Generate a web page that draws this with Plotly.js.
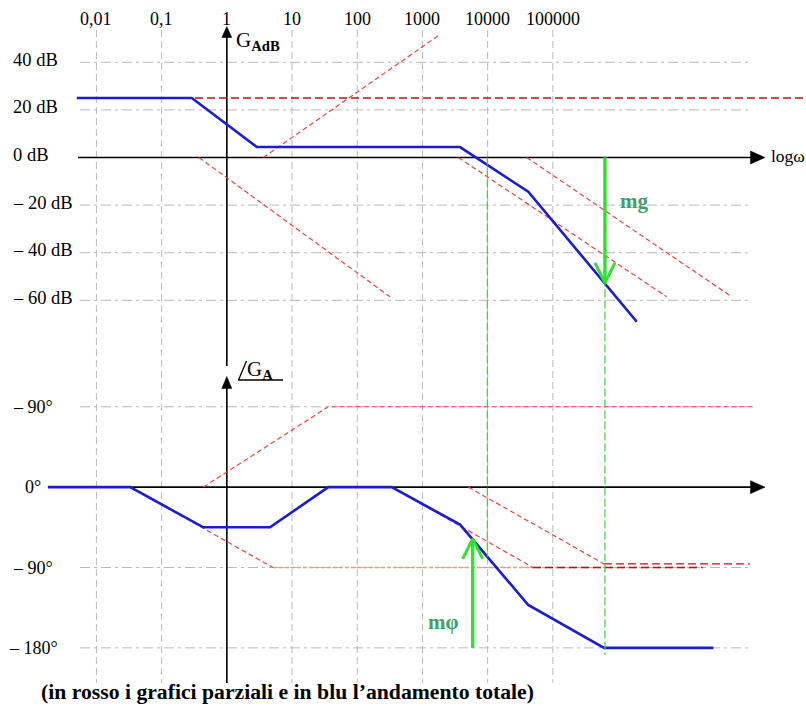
<!DOCTYPE html>
<html><head><meta charset="utf-8">
<script src="https://cdn.plot.ly/plotly-3.0.1.min.js"></script>
<style>html,body{margin:0;padding:0;background:#fff;} #chart{width:806px;height:706px;}</style>
</head><body><div id="chart"></div>
<script>
// ---------------- data ----------------
const decades = [0.01, 0.1, 1, 10, 100, 1000, 10000, 100000];
const decadeLabels = ['0,01', '0,1', '1', '10', '100', '1000', '10000', '100000'];
const dbTicks = [40, 20, 0, -20, -40, -60];
const dbLabels = ['40 dB', '20 dB', '0 dB', '– 20 dB', '– 40 dB', '– 60 dB'];
const degTicks = [90, 0, -90, -180];
const degLabels = ['– 90°', '0°', '– 90°', '– 180°'];

// total magnitude (blue)
const magW  = [0.005, 0.29, 2.9, 3780, 42000, 1940000];
const magDb = [25, 25, 4.4, 4.4, -14.4, -69];
// partial magnitudes (red)
const gainW = [0.325, 1e9];            const gainDb = [25, 25];
const zeroMagW = [3.63, 1820];         const zeroMagDb = [0, 51.5];
const pole1MagW = [0.375, 318];        const pole1MagDb = [0, -58.5];
const pole2MagW = [3560, 5580000];     const pole2MagDb = [0, -58.5];
const pole3MagW = [39800, 55500000];   const pole3MagDb = [0, -58.5];

// total phase (blue)
const phW   = [0.0018, 0.033, 0.436, 4.6, 36, 338, 3780, 42000, 610000, 29000000];
const phDeg = [0, 0, -45, -45, 0, 0, -42, -132, -180, -180];
// partial phases (red)
const zeroPhW = [0.436, 36, 117000000];   const zeroPhDeg = [0, 90, 90];
const pole1PhW = [0.033, 5.1];            const pole1PhDeg = [0, -90];
const pole1TailW = [5.1, 18000000];       const pole1TailDeg = [-90, -90];
const pole2PhW = [338, 49700];            const pole2PhDeg = [0, -90];
const pole2TailW = [49700, 20000000];     const pole2TailDeg = [-90, -90];
const pole3PhW = [5060, 610000];          const pole3PhDeg = [0, -86];
const pole3TailW = [610000, 105000000];   const pole3TailDeg = [-86, -86];

// stability margins
const wGainCross = 9900;    const phaseAtGainCross = -78;
const wPhaseCross = 630000; const gainMarginDb = -52.7; const phaseGuideEnd = -188;
const wMphi = 5900;         const phaseMarginTip = -58;  const phaseMarginBase = -180;

// ---------------- layout helpers ----------------
const W = 806, H = 706;
const X_LOG_RANGE = [-3.479, 8.883];
const DB_RANGE = [-230.46, 66.18];
const DEG_RANGE = [-245.1, 545.5];
const px = v => v / W;
const py = v => 1 - v / H;
const dbToPaper = d => (d - DB_RANGE[0]) / (DB_RANGE[1] - DB_RANGE[0]);
const degToPaper = d => (d - DEG_RANGE[0]) / (DEG_RANGE[1] - DEG_RANGE[0]);
const PX_PER_DECADE = W / (X_LOG_RANGE[1] - X_LOG_RANGE[0]);
const PX_PER_DB = H / (DB_RANGE[1] - DB_RANGE[0]);
const PX_PER_DEG = H / (DEG_RANGE[1] - DEG_RANGE[0]);

const RED = '#e8463f', DARKRED = '#b5161b', BLUE = '#1c1cc9', TAN = '#e8a07a';
const GREEN_D = '#33d433', GREEN = '#2fe22f', LABELGREEN = '#3f9f6c', GRID = '#b9b9b9';
const SERIF = 'Liberation Serif, Times New Roman, serif';

function ln(x, y, color, width, dash, yaxis) {
  return {type: 'scatter', mode: 'lines', x: x, y: y, yaxis: yaxis || 'y',
          line: {color: color, width: width, dash: dash || 'solid'},
          hoverinfo: 'skip', showlegend: false};
}
// vertical arrow: shaft + open V head (head size given in pixels)
function vArrow(w, yFrom, yTo, pxPerUnit, yaxis) {
  const halfW = 10, len = 20;
  const dir = yTo > yFrom ? 1 : -1;
  const k = Math.pow(10, halfW / PX_PER_DECADE);
  const yBack = yTo - dir * len / pxPerUnit;
  return [
    ln([w, w], [yFrom, yTo], GREEN, 3.4, 'solid', yaxis),
    Object.assign(ln([w / k, w, w * k], [yBack, yTo, yBack], GREEN, 3, 'solid', yaxis), {line: {color: GREEN, width: 3, shape: 'linear'}})
  ];
}

const traces = [
  ln(gainW, gainDb, DARKRED, 1.4, '8px,4px'),
  ln(zeroMagW, zeroMagDb, RED, 1.2, '5px,3px'),
  ln(pole1MagW, pole1MagDb, RED, 1.2, '5px,3px'),
  ln(pole2MagW, pole2MagDb, RED, 1.2, '5px,3px'),
  ln(pole3MagW, pole3MagDb, RED, 1.2, '5px,3px'),
  ln(zeroPhW, zeroPhDeg, RED, 1.2, '5px,3px', 'y2'),
  ln(pole1PhW, pole1PhDeg, RED, 1.2, '5px,3px', 'y2'),
  ln(pole1TailW, pole1TailDeg, TAN, 1.5, '4px,2px', 'y2'),
  ln(pole2PhW, pole2PhDeg, RED, 1.2, '5px,3px', 'y2'),
  ln(pole2TailW, pole2TailDeg, DARKRED, 1.4, '8px,4px', 'y2'),
  ln(pole3PhW, pole3PhDeg, RED, 1.2, '5px,3px', 'y2'),
  ln(pole3TailW, pole3TailDeg, DARKRED, 1.4, '8px,4px', 'y2'),
  ln(magW, magDb, BLUE, 2.6),
  ln(phW, phDeg, BLUE, 2.6, 'solid', 'y2')
].concat(
  vArrow(wPhaseCross, 0, gainMarginDb, PX_PER_DB, 'y'),
  vArrow(wMphi, phaseMarginBase, phaseMarginTip, PX_PER_DEG, 'y2')
);

// ---------------- shapes ----------------
const shapes = [];
decades.forEach(d => {
  if (d === 1) return;
  shapes.push({type: 'line', layer: 'below', xref: 'x', yref: 'paper', x0: d, x1: d,
    y0: py(30), y1: py(683), line: {color: GRID, width: 1, dash: '7px,4px'}});
});
dbTicks.forEach(v => {
  if (v === 0) return;
  shapes.push({type: 'line', layer: 'below', xref: 'paper', yref: 'y', x0: px(80), x1: px(750),
    y0: v, y1: v, line: {color: GRID, width: 1, dash: '10px,4px,3px,4px'}});
});
degTicks.forEach(v => {
  if (v === 0) return;
  shapes.push({type: 'line', layer: 'below', xref: 'paper', yref: 'y2', x0: px(80), x1: px(750),
    y0: v, y1: v, line: {color: GRID, width: 1, dash: '10px,4px,3px,4px'}});
});
const AX = {color: '#000', width: 1.6};
shapes.push({type: 'line', layer: 'below', xref: 'paper', yref: 'y', x0: px(78), x1: px(752), y0: 0, y1: 0, line: AX});
shapes.push({type: 'line', layer: 'below', xref: 'paper', yref: 'y2', x0: px(48), x1: px(752), y0: 0, y1: 0, line: AX});
shapes.push({type: 'line', layer: 'below', xref: 'x', yref: 'paper', x0: 1, x1: 1, y0: py(36), y1: py(366), line: AX});
shapes.push({type: 'line', layer: 'below', xref: 'x', yref: 'paper', x0: 1, x1: 1, y0: py(387), y1: py(683), line: AX});
function tri(pts) {
  return {type: 'path', xref: 'paper', yref: 'paper', fillcolor: '#000', line: {color: '#000', width: 0.5},
    path: 'M' + pts.map(p => px(p[0]) + ',' + py(p[1])).join('L') + 'Z'};
}
const yZeroDbPx = (1 - dbToPaper(0)) * H;
const yZeroDegPx = (1 - degToPaper(0)) * H;
shapes.push(tri([[221.8, 37.5], [226.8, 26.5], [231.8, 37.5]]));
shapes.push(tri([[221.8, 388.5], [226.8, 376.5], [231.8, 388.5]]));
shapes.push(tri([[750.5, yZeroDbPx - 6.5], [765, yZeroDbPx], [750.5, yZeroDbPx + 6.5]]));
shapes.push(tri([[750.5, yZeroDegPx - 6.5], [765, yZeroDegPx], [750.5, yZeroDegPx + 6.5]]));
shapes.push({type: 'line', xref: 'paper', yref: 'paper', x0: px(238.5), y0: py(380), x1: px(246.5), y1: py(361), line: {color: '#000', width: 1.3}});
shapes.push({type: 'line', xref: 'paper', yref: 'paper', x0: px(238), y0: py(380), x1: px(283), y1: py(380), line: {color: '#000', width: 1.3}});
shapes.push({type: 'line', xref: 'x', yref: 'paper', x0: wGainCross, x1: wGainCross,
  y0: dbToPaper(0), y1: degToPaper(phaseAtGainCross), line: {color: GREEN_D, width: 1.2, dash: '8px,3px'}});
shapes.push({type: 'line', xref: 'x', yref: 'paper', x0: wPhaseCross, x1: wPhaseCross,
  y0: dbToPaper(0), y1: degToPaper(phaseGuideEnd), line: {color: GREEN_D, width: 1.2, dash: '8px,3px'}});

// ---------------- annotations ----------------
const annotations = [];
decades.forEach((d, i) => {
  annotations.push({xref: 'x', yref: 'paper', x: Math.log10(d), y: py(19), text: decadeLabels[i],
    showarrow: false, xanchor: 'center', yanchor: 'middle', font: {size: 18}});
});
dbTicks.forEach((v, i) => {
  annotations.push({xref: 'paper', yref: 'y', x: px(11), y: v, yshift: 2.5, text: dbLabels[i],
    showarrow: false, xanchor: 'left', yanchor: 'middle', font: {size: 18.5}});
});
degTicks.forEach((v, i) => {
  annotations.push({xref: 'paper', yref: 'y2', x: px(33), y: v, text: degLabels[i],
    showarrow: false, xanchor: 'center', yanchor: 'middle', font: {size: 18}});
});
annotations.push({xref: 'paper', yref: 'paper', x: px(234), y: py(41), text: 'G<sub><b>AdB</b></sub>',
  showarrow: false, xanchor: 'left', yanchor: 'middle', font: {size: 21}});
annotations.push({xref: 'paper', yref: 'paper', x: px(245), y: py(370), text: 'G<sub><b>A</b></sub>',
  showarrow: false, xanchor: 'left', yanchor: 'middle', font: {size: 21}});
annotations.push({xref: 'paper', yref: 'paper', x: px(769), y: py(156), text: 'logω',
  showarrow: false, xanchor: 'left', yanchor: 'middle', font: {size: 17.5}});
annotations.push({xref: 'paper', yref: 'paper', x: px(39), y: py(692),
  text: '<b>(in rosso i grafici parziali e in blu l’andamento totale)</b>',
  showarrow: false, xanchor: 'left', yanchor: 'middle', font: {size: 21.7}});
annotations.push({xref: 'paper', yref: 'paper', x: px(634), y: py(201), text: '<b>mg</b>',
  showarrow: false, xanchor: 'center', yanchor: 'middle', font: {size: 21, color: LABELGREEN}});
annotations.push({xref: 'paper', yref: 'paper', x: px(443), y: py(622), text: '<b>mφ</b>',
  showarrow: false, xanchor: 'center', yanchor: 'middle', font: {size: 21, color: LABELGREEN}});

const layout = {
  width: W, height: H, margin: {l: 0, r: 0, t: 0, b: 0},
  paper_bgcolor: '#fff', plot_bgcolor: '#fff', showlegend: false,
  font: {family: SERIF, size: 17, color: '#000'},
  xaxis: {type: 'log', range: X_LOG_RANGE, visible: false, fixedrange: true},
  yaxis: {range: DB_RANGE, visible: false, fixedrange: true},
  yaxis2: {range: DEG_RANGE, overlaying: 'y', visible: false, fixedrange: true},
  shapes: shapes, annotations: annotations
};
Plotly.newPlot('chart', traces, layout, {staticPlot: true, displayModeBar: false});
</script></body></html>
